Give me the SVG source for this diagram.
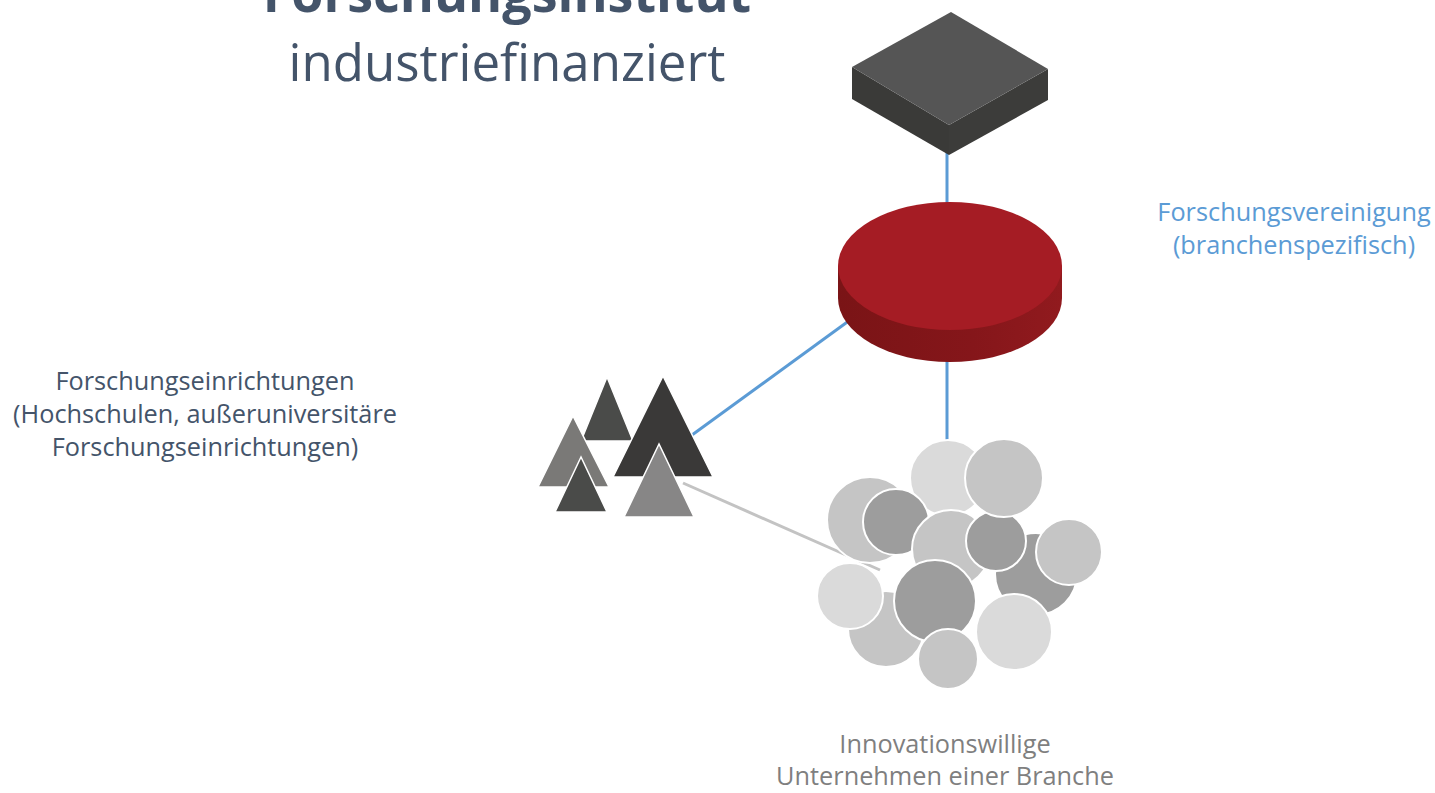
<svg xmlns="http://www.w3.org/2000/svg" width="1435" height="793" viewBox="0 0 1435 793">
<style>
text{font-family:"Open Sans","Liberation Sans",sans-serif;text-anchor:middle}
.t{fill:#44546a}
.lbl{font-size:25.3px}
.blue{fill:#5b9bd5}
.gray{fill:#7f7f7f}
.tri{stroke:#ffffff;stroke-width:1.5;stroke-linejoin:miter}
.c{stroke:#ffffff;stroke-width:2}
.l1{fill:#dadada}.l2{fill:#c5c5c5}.l3{fill:#9d9d9d}
</style>
<defs>
<linearGradient id="cylSide" x1="0" y1="0" x2="1" y2="0">
<stop offset="0" stop-color="#7a1416"/>
<stop offset="0.6" stop-color="#85161a"/>
<stop offset="1" stop-color="#911a1e"/>
</linearGradient>
</defs>
<rect width="1435" height="793" fill="#ffffff"/>
<g id="title">
<text class="t" x="507" y="12" font-size="52" font-weight="bold">Forschungsinstitut</text>
<text class="t" x="507" y="81" font-size="51">industriefinanziert</text>
</g>
<g id="connectors">
<line x1="947" y1="150" x2="947" y2="210" stroke="#5b9bd5" stroke-width="3"/>
<line x1="947" y1="355" x2="947" y2="441" stroke="#5b9bd5" stroke-width="3"/>
<line x1="850" y1="320" x2="692" y2="435" stroke="#5b9bd5" stroke-width="3"/>
<line x1="683" y1="483" x2="880" y2="570" stroke="#c3c3c3" stroke-width="3"/>
</g>
<g id="box">
<polygon points="852,67 949,125 949,155 852,99" fill="#3a3a38"/>
<polygon points="949,125 1048,69 1048,100 949,155" fill="#3c3c3a"/>
<polygon points="951,12 1048,69 949,125 852,67" fill="#555555"/>
</g>
<g id="cylinder">
<path d="M838,266 L838,298 A112,64 0 0 0 1062,298 L1062,266 Z" fill="url(#cylSide)"/>
<ellipse cx="950" cy="266" rx="112" ry="64" fill="#a51c24"/>
</g>
<g id="triangles">
<polygon class="tri" points="607,377 581,441 633,441" fill="#4a4b49"/>
<polygon class="tri" points="663,376 613,477 713,477" fill="#3a3938"/>
<polygon class="tri" points="573,416 538,487 609,487" fill="#7a7977"/>
<polygon class="tri" points="581,457 555,512 607,512" fill="#4a4b49"/>
<polygon class="tri" points="659,444 624,517 694,517" fill="#878686"/>
</g>
<g id="companies">
<circle class="c l1" cx="948" cy="478" r="38"/>
<circle class="c l2" cx="870" cy="520" r="43"/>
<circle class="c l3" cx="896" cy="522" r="33"/>
<circle class="c l2" cx="951" cy="549" r="39"/>
<circle class="c l3" cx="1036" cy="574" r="41"/>
<circle class="c l3" cx="996" cy="541" r="30"/>
<circle class="c l2" cx="1004" cy="478" r="39"/>
<circle class="c l2" cx="1069" cy="552" r="33"/>
<circle class="c l2" cx="886" cy="629" r="38"/>
<circle class="c l1" cx="850" cy="596" r="33"/>
<circle class="c l3" cx="935" cy="601" r="41"/>
<circle class="c l1" cx="1014" cy="632" r="38"/>
<circle class="c l2" cx="948" cy="659" r="30"/>
</g>
<g id="label-vereinigung">
<text class="lbl blue" x="1294" y="221">Forschungsvereinigung</text>
<text class="lbl blue" x="1294" y="254">(branchenspezifisch)</text>
</g>
<g id="label-einrichtungen">
<text class="lbl t" x="205" y="390">Forschungseinrichtungen</text>
<text class="lbl t" x="205" y="423">(Hochschulen, außeruniversitäre</text>
<text class="lbl t" x="205" y="456">Forschungseinrichtungen)</text>
</g>
<g id="label-unternehmen">
<text class="lbl gray" x="945" y="753">Innovationswillige</text>
<text class="lbl gray" x="945" y="785">Unternehmen einer Branche</text>
</g>
</svg>
